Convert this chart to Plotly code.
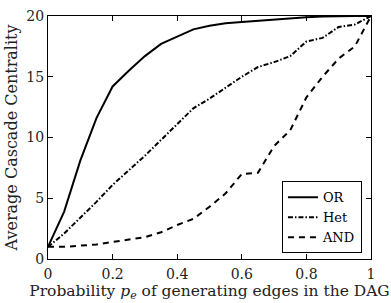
import plotly.graph_objects as go

p = [0, 0.05, 0.1, 0.15, 0.2, 0.25, 0.3, 0.35, 0.4, 0.45, 0.5,
     0.55, 0.6, 0.65, 0.7, 0.75, 0.8, 0.85, 0.9, 0.95, 1.0]
or_vals = [1.0, 3.9, 8.1, 11.6, 14.2, 15.5, 16.7, 17.7, 18.3, 18.9, 19.2,
           19.4, 19.5, 19.6, 19.7, 19.85, 19.9, 19.95, 20.0, 20.0, 20.0]
het_vals = [1.0, 2.1, 3.4, 4.7, 6.1, 7.3, 8.5, 9.8, 11.1, 12.4, 13.2,
            14.1, 15.0, 15.8, 16.2, 16.7, 17.9, 18.2, 19.1, 19.3, 20.0]
and_vals = [1.0, 1.0, 1.1, 1.2, 1.4, 1.6, 1.8, 2.2, 2.8, 3.3, 4.3,
            5.4, 7.0, 7.1, 9.3, 10.6, 13.3, 15.0, 16.5, 17.5, 20.0]

FONT = "DejaVu Serif"

fig = go.Figure()
fig.add_trace(go.Scatter(x=p, y=or_vals, mode="lines", name="OR",
                         line=dict(color="black", width=2)))
fig.add_trace(go.Scatter(x=p, y=het_vals, mode="lines", name="Het",
                         line=dict(color="black", width=2, dash="5px,2px,1.5px,2px")))
fig.add_trace(go.Scatter(x=p, y=and_vals, mode="lines", name="AND",
                         line=dict(color="black", width=2, dash="6px,5px")))

axis_common = dict(showline=True, linecolor="black", linewidth=1, mirror="ticks",
                   ticks="inside", ticklen=5, tickcolor="black", showgrid=False,
                   zeroline=False, automargin=False,
                   tickfont=dict(family=FONT, size=14, color="#222"))

fig.update_layout(
    width=391, height=303,
    margin=dict(l=48, r=20, t=16, b=44, autoexpand=False),
    paper_bgcolor="white", plot_bgcolor="white",
    font=dict(family=FONT, color="#222"),
    xaxis=dict(range=[0, 1], tickvals=[0, 0.2, 0.4, 0.6, 0.8, 1],
               ticktext=["0", "0.2", "0.4", "0.6", "0.8", "1"],
               ticklabelstandoff=2,
               title=dict(text="Probability <i>p</i><sub><i>e</i></sub> of generating edges in the DAG",
                          font=dict(family=FONT, size=15.5), standoff=2),
               **axis_common),
    yaxis=dict(range=[0, 20], tickvals=[0, 5, 10, 15, 20],
               title=dict(text="Average Cascade Centrality",
                          font=dict(family=FONT, size=16), standoff=4),
               **axis_common),
    legend=dict(x=0.972, y=0.023, xanchor="right", yanchor="bottom",
                bordercolor="black", borderwidth=1, bgcolor="white",
                font=dict(family=FONT, size=13, color="black"), tracegroupgap=0,
                itemwidth=30),
    showlegend=True,
)

fig.write_html("out.html", config={"displayModeBar": False},
               post_script="document.body.style.margin='0';document.body.style.padding='0';")
